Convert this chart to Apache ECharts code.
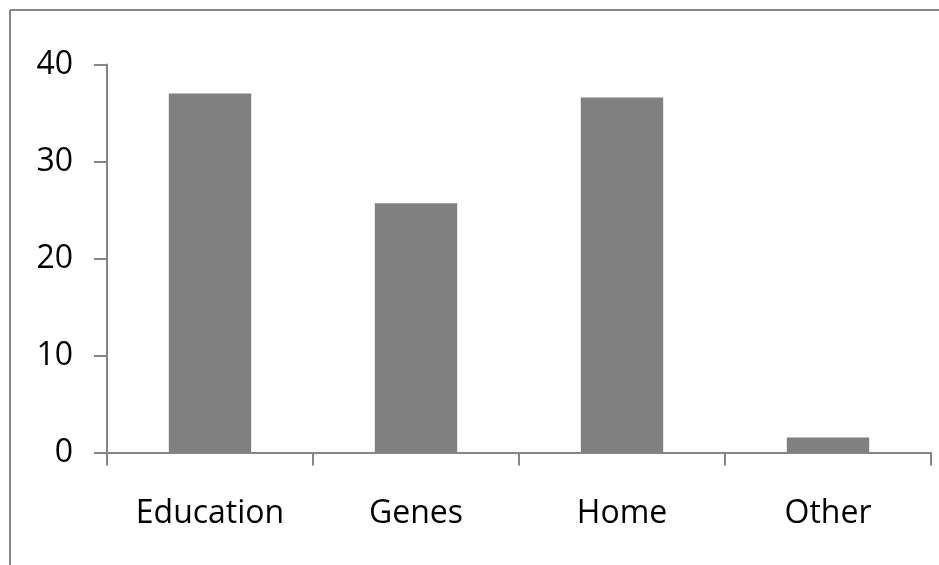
<!DOCTYPE html>
<html>
<head>
<meta charset="utf-8">
<script src="https://cdn.jsdelivr.net/npm/echarts@6/dist/echarts.min.js"></script>
<style>
html,body{margin:0;padding:0;background:#fff;}
#chart{width:939px;height:565px;}
</style>
</head>
<body>
<div id="chart"></div>
<script>
var categories = ['Education', 'Genes', 'Home', 'Other'];
var values = [37.0, 25.7, 36.6, 1.55];
var yTicks = [0, 10, 20, 30, 40];

var chart = echarts.init(document.getElementById('chart'), null, {renderer: 'canvas'});
var axisColor = '#868686';
var font = 'Open Sans';
chart.setOption({
  animation: false,
  backgroundColor: '#ffffff',
  graphic: [
    {type: 'line', shape: {x1: 10, y1: 10, x2: 939, y2: 10}, style: {stroke: '#878787', lineWidth: 2}},
    {type: 'line', shape: {x1: 10, y1: 10, x2: 10, y2: 565}, style: {stroke: '#878787', lineWidth: 2}}
  ],
  grid: {left: 107, right: 8, top: 64.5, bottom: 112.5, containLabel: false},
  xAxis: {
    type: 'category',
    data: categories,
    axisLine: {show: true, lineStyle: {color: axisColor, width: 2}},
    axisTick: {show: true, alignWithLabel: false, length: 13, lineStyle: {color: axisColor, width: 2}},
    axisLabel: {color: '#000', fontFamily: font, fontSize: 32, margin: 45}
  },
  yAxis: {
    type: 'value',
    min: yTicks[0],
    max: yTicks[yTicks.length - 1],
    interval: 10,
    axisLine: {show: true, lineStyle: {color: axisColor, width: 2}},
    axisTick: {show: true, length: 13, lineStyle: {color: axisColor, width: 2}},
    axisLabel: {color: '#000', fontFamily: font, fontSize: 32, margin: 34},
    splitLine: {show: false}
  },
  series: [{
    type: 'bar',
    data: values,
    barWidth: '40%',
    itemStyle: {color: '#808080'}
  }]
});
</script>
</body>
</html>
